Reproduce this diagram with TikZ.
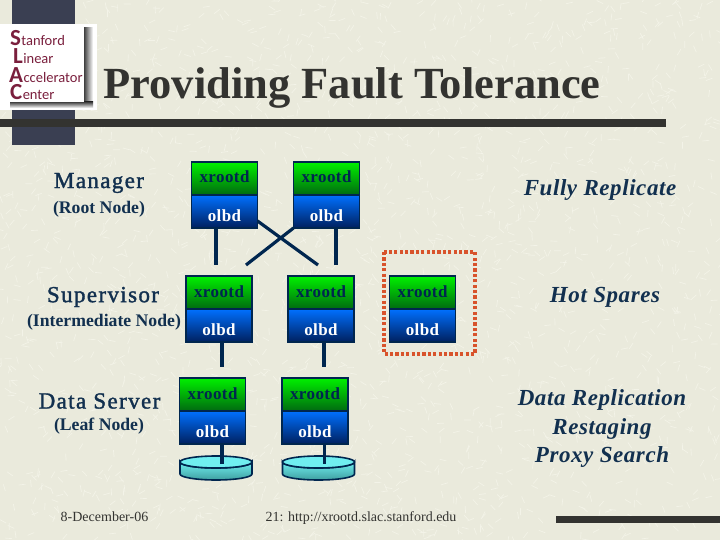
\documentclass[tikz,border=0pt]{standalone}
\usepackage{fontspec}
\setmainfont{Liberation Serif}
\newfontfamily\slacfont{Carlito}
\newfontfamily\widefont[LetterSpace=2.5]{Liberation Serif}
\newfontfamily\rolefont[LetterSpace=6,FakeBold=1.5]{Liberation Serif}
\usetikzlibrary{positioning}
\definecolor{slidebg}{HTML}{EAEADC}
\definecolor{slidefleck}{HTML}{F3F3E8}
\definecolor{slidebar}{HTML}{333330}
\definecolor{slidecol}{HTML}{3A3F52}
\definecolor{slideink}{HTML}{12304F}
\definecolor{linknavy}{HTML}{00264F}
\definecolor{slacred}{HTML}{7A1F3D}
\definecolor{sparered}{HTML}{D8532B}
\definecolor{xrtop}{HTML}{00F000}
\definecolor{xrbot}{HTML}{006A10}
\definecolor{oltop}{HTML}{0070FF}
\definecolor{olbot}{HTML}{00205F}
\definecolor{disktop}{HTML}{70EEF0}
\definecolor{diskbot}{HTML}{3F9FA0}

\begin{document}
\begin{tikzpicture}[
        x=1pt, y=-1pt,
        xr/.style={
          draw=linknavy, line width=1.6pt, outer sep=0pt,
          top color=xrtop, bottom color=xrbot,
          text=linknavy, font=\widefont\fontsize{17}{18}\selectfont\bfseries,
          minimum width=66pt, minimum height=33pt, inner sep=0pt,
          text height=10pt, text depth=1pt,
        },
        ol/.style={
          draw=linknavy, line width=1.6pt, outer sep=0pt,
          top color=oltop, bottom color=olbot,
          text=white, font=\widefont\fontsize{17}{18}\selectfont\bfseries,
          minimum width=66pt, minimum height=33pt, inner sep=0pt,
          text height=20pt, text depth=0pt,
        },
        link/.style={draw=linknavy, line width=3.2pt},
        role/.style={text=slideink, font=\rolefont\fontsize{23}{25}\selectfont},
        sub/.style={text=slideink, font=\fontsize{17.7}{19}\selectfont\bfseries},
        note/.style={text=slideink, font=\widefont\fontsize{23}{24}\selectfont\bfseries\itshape},
        foot/.style={text=slidebar, font=\fontsize{14}{15}\selectfont},
        sl/.style={text=slacred, font=\slacfont\fontsize{14.5}{15}\selectfont, anchor=base west, inner sep=0pt},
        bg/.style={text=slacred, font=\slacfont\bfseries\fontsize{23}{24}\selectfont, anchor=base west, inner sep=0pt},
      ]
      \useasboundingbox (0,0) rectangle (720,540);
      \fill[slidebg] (0,0) rectangle (720,540);
      % paper flecks
      \pgfmathsetseed{7}
      \foreach \i in {1,...,2400}{
        \pgfmathsetmacro{\px}{rnd*720}
        \pgfmathsetmacro{\py}{rnd*540}
        \pgfmathsetmacro{\pa}{rnd*360}
        \draw[slidefleck, line width=0.7pt] (\px,\py) -- ++(\pa:7);
      }
      % slide frame
      \fill[slidecol] (12,0) rectangle (75,145);
      \fill[slidebar] (0,119) rectangle (666,127);
      \fill[slidebar] (556,516) rectangle (720,523);
      % logo
      \fill[white] (0,24) rectangle (97,110);
      \shade[left color=black!75, right color=white] (84,28) rectangle (93,108);
      \shade[top color=black!75, bottom color=white] (10,102) rectangle (93,108);
      \fill[white] (0,30) rectangle (84,102);
      \node[bg] (ls) at (10,46) {S};
      \node[sl] at (ls.base east) {tanford};
      \node[bg] (ll) at (13,64) {L};
      \node[sl] at (ll.base east) {inear};
      \node[bg] (la) at (9,83) {A};
      \node[sl] at (la.base east) {ccelerator};
      \node[bg] (lc) at (10,100) {C};
      \node[sl] at (lc.base east) {enter};
      \node[text=slidebar, font=\fontsize{44.5}{47}\selectfont\bfseries] (title) at (352,88) {Providing Fault Tolerance};
      % xrootd over olbd
      \foreach \n/\x/\y in {m1/224.5/178.5, m2/326.5/178.5,
                            s1/219/292.5, s2/321/292.5, s3/422.5/292.5,
                            d1/212.5/394.5, d2/315/394.5}{
        \node[xr] (\n x) at (\x,\y) {xrootd};
        \node[ol, below=0pt of \n x] (\n o) {olbd};
      }
      % links
      \coordinate (e1) at (216,265);
      \coordinate (e2) at (246,265);
      \coordinate (e3) at (318,265);
      \coordinate (e4) at (336,265);
      \coordinate (e5) at (222,367);
      \coordinate (e6) at (324,367);
      \draw[link] (e1 |- m1o.south) -- (e1);
      \draw[link] (m2o.south west) -- (e2);
      \draw[link] (m1o.south east) ++(0,-7) -- (e3);
      \draw[link] (e4 |- m2o.south) -- (e4);
      \draw[link] (e5 |- s1o.south) -- (e5);
      \draw[link] (e6 |- s2o.south) -- (e6);
      % disks
      \foreach \n/\x in {1/216, 2/318.5}{
        \path[draw=linknavy, line width=1.6pt, top color=disktop, bottom color=diskbot]
          (\x-36,462) arc[start angle=180, end angle=0, x radius=36, y radius=6]
          -- (\x+36,474) arc[start angle=0, end angle=180, x radius=36, y radius=6] -- cycle;
        \path[draw=linknavy, line width=1.6pt, fill=disktop] (\x,462) ellipse[x radius=36, y radius=6];
        \coordinate (c\n) at (\x+6,464);
      }
      \draw[link] (d1o.south -| c1) -- (c1);
      \draw[link] (d2o.south -| c2) -- (c2);
      % spare marker
      \draw[sparered, line width=3.2pt, dash pattern=on 3.2pt off 2.2pt] (384,252) rectangle (475,354);
      % labels
      \node[role] (manager) at (99,183) {Manager};
      \node[sub] (root) at (99,209) {(Root Node)};
      \node[role] (super) at (103,297) {Supervisor};
      \node[sub] (inter) at (104,322) {(Intermediate Node)};
      \node[role] (data) at (99.5,401) {Data Server};
      \node[sub] (leaf) at (99,426) {(Leaf Node)};
      \node[note] (fully) at (600,190) {Fully Replicate};
      \node[note] (hot) at (605,297.5) {Hot Spares};
      \node[note] (repl) at (602,399.5) {Data Replication};
      \node[note] (stage) at (602,428.5) {Restaging};
      \node[note] (proxy) at (602,456.5) {Proxy Search};
      \node[foot] (date) at (104.5,517) {8-December-06};
      \node[foot] (page) at (361,518) {21: http://xrootd.slac.stanford.edu};
    \end{tikzpicture}
\end{document}
